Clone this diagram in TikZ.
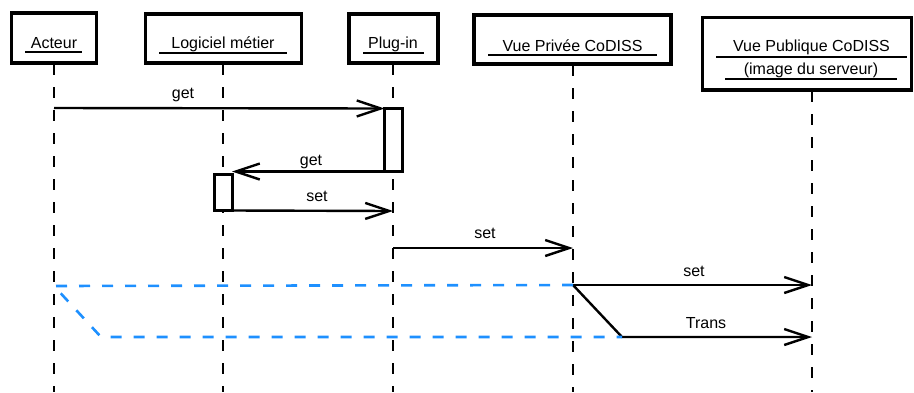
\documentclass[tikz,border=0pt]{standalone}
\usepackage{fontspec}
\setmainfont{Liberation Sans}
\usetikzlibrary{arrows.meta}
\definecolor{bluedash}{RGB}{30,144,255}
\begin{document}
\begin{tikzpicture}[x=1pt,y=-1pt,
 box/.style={draw,line width=3.2pt,inner sep=0pt,outer sep=0pt,fill=white},
 act/.style={draw,line width=3pt,inner sep=0pt,outer sep=0pt,fill=white},
 life/.style={line width=1.3pt,dash pattern=on 11pt off 12pt},
 ul/.style={line width=1.4pt},
 msg/.style={line width=2.4pt,-{Straight Barb[length=24pt,width=16pt,line width=2.4pt]}},
 lbl/.style={font=\fontsize{16}{19}\selectfont,inner sep=0pt,anchor=base},
 flow/.style={draw=bluedash,line width=2.6pt,dash pattern=on 11pt off 12pt}]
\useasboundingbox (0,0) rectangle (914,392);
% header boxes
\node[box,minimum width=85pt,minimum height=50pt] (acteur) at (54,38) {};
\node[box,minimum width=156pt,minimum height=49pt] (logiciel) at (223.5,38.5) {};
\node[box,minimum width=89pt,minimum height=49pt] (plugin) at (393.5,38.5) {};
\node[box,minimum width=197pt,minimum height=49pt] (privee) at (572.5,39.5) {};
\node[box,minimum width=209pt,minimum height=72.5pt] (publique) at (807,53.75) {};
% header texts
\node[lbl] (tacteur) at (54,48) {Acteur};
\node[lbl] (tlogiciel) at (223,48) {Logiciel métier};
\node[lbl] (tplugin) at (393,48) {Plug-in};
\node[lbl] (tprivee) at (572.5,51) {Vue Privée CoDISS};
\node[lbl] (tpublique) at (811.5,51) {Vue Publique CoDISS};
\node[lbl] (tserveur) at (811,74) {(image du serveur)};
\draw[ul] (25,52) -- (82,52);
\draw[ul] (159,53) -- (287,53);
\draw[ul] (363,53) -- (424,53);
\draw[ul] (488,55) -- (657,55);
\draw[ul] (716,57) -- (907,57);
\draw[ul] (725,79) -- (897,79);
% lifelines
\coordinate (lA) at (54,64);   \coordinate (eA) at (54,392);
\coordinate (lL) at (223,64);  \coordinate (eL) at (223,392);
\coordinate (lP) at (393,64);  \coordinate (eP) at (393,392);
\coordinate (lV) at (573,65);  \coordinate (eV) at (573,392);
\coordinate (lU) at (812,91);  \coordinate (eU) at (812,392);
\draw[life] (lA) -- (eA);
\draw[life] (lL) -- (eL);
\draw[life] (lP) -- (eP);
\draw[life] (lV) -- (eV);
\draw[life] (lU) -- (eU);
% activations
\node[act,minimum width=18pt,minimum height=63pt] (actP) at (393.5,140) {};
\node[act,minimum width=18pt,minimum height=36pt] (actL) at (223,192.5) {};
% message coordinates
\coordinate (m1s) at (54,108);
\coordinate (m3e) at (393,211);
\coordinate (m4s) at (393,248);
\coordinate (m4e) at (573,248);
\coordinate (m5s) at (573,285);
\coordinate (m5e) at (812,285);
\coordinate (m6k) at (622,337);
\coordinate (m6e) at (812,337);
\coordinate (b1) at (54,286);
\coordinate (b2) at (101,337);
% messages
\draw[msg] (m1s) -- (actP.north west);
\draw[msg] (actP.south west) -- (actP.south west -| actL.east);
\draw[msg] (actL.south east) -- (m3e);
\draw[msg] (m4s) -- (m4e);
\draw[msg] (m5s) -- (m5e);
\draw[msg] (m5s) -- (m6k) -- (m6e);
% labels
\node[lbl] (g1) at (183,98) {get};
\node[lbl] (g2) at (311,165) {get};
\node[lbl] (s1) at (317,201) {set};
\node[lbl] (s2) at (485,238) {set};
\node[lbl] (s3) at (694,276) {set};
\node[lbl] (tr) at (706,328) {Trans};
% blue dashed flow
\draw[flow] (m5s) -- (b1) -- (b2) -- (m6k);
\end{tikzpicture}
\end{document}
